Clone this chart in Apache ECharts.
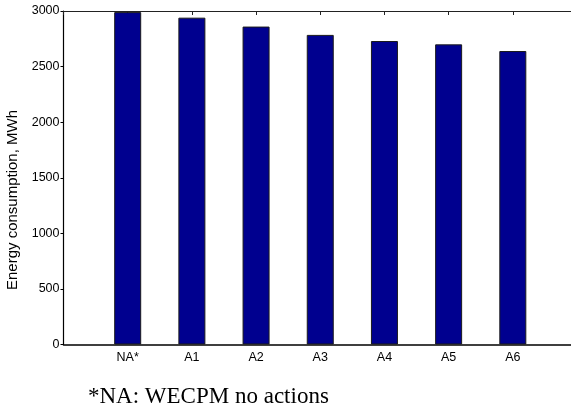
<!DOCTYPE html>
<html>
<head>
<meta charset="utf-8">
<script src="https://cdn.jsdelivr.net/npm/echarts@6/dist/echarts.min.js"></script>
<style>
  html, body { margin: 0; padding: 0; background: #fff; }
  #chart { width: 571px; height: 410px; }
</style>
</head>
<body>
<div id="chart"></div>
<script>
// Scenario labels; the empty slots pad the axis so bars sit at 1..7 on a 0..8 range
const categories = ['', 'NA*', 'A1', 'A2', 'A3', 'A4', 'A5', 'A6', ''];
// Annual energy consumption per scenario, MWh
const consumption = ['-', 2990, 2940, 2860, 2785, 2730, 2700, 2640, '-'];
const yTicks = { min: 0, max: 3000, interval: 500 };
const yAxisName = 'Energy consumption, MWh';
const footnote = '*NA: WECPM no actions';

const chart = echarts.init(document.getElementById('chart'), null, { renderer: 'canvas' });

const sansFamily = '"Liberation Sans", Arial, sans-serif';
const labelFont = { color: '#000', fontFamily: sansFamily, fontSize: 12.5 };

chart.setOption({
  animation: false,
  backgroundColor: '#fff',
  // the axes box runs a little past the right edge of the canvas
  grid: { left: 63.5, width: 513.5, top: 11, bottom: 65.5, outerBoundsMode: 'none', containLabel: false },
  xAxis: [
    {
      type: 'category',
      data: categories,
      boundaryGap: false,
      position: 'bottom',
      axisLine: { lineStyle: { color: '#000', width: 1.5 } },
      axisTick: { show: false },
      axisLabel: Object.assign({ margin: 7, interval: 0 }, labelFont),
      splitLine: { show: false }
    },
    {
      type: 'category',
      data: categories,
      boundaryGap: false,
      position: 'top',
      axisLine: { lineStyle: { color: '#222', width: 1.2 } },
      axisTick: { inside: true, length: 4, alignWithLabel: true, interval: 0, lineStyle: { color: '#222' } },
      axisLabel: { show: false },
      splitLine: { show: false }
    }
  ],
  yAxis: {
    type: 'value',
    min: yTicks.min,
    max: yTicks.max,
    interval: yTicks.interval,
    axisLine: { show: true, lineStyle: { color: '#000', width: 1.2 } },
    axisTick: { show: true, inside: false, length: 3, lineStyle: { color: '#000' } },
    axisLabel: Object.assign({ margin: 4, formatter: v => String(v) }, labelFont),
    splitLine: { show: false }
  },
  series: [{
    type: 'bar',
    data: consumption,
    barWidth: 27,
    itemStyle: { color: '#00008F', borderColor: '#1a1a1a', borderWidth: 1 }
  }],
  graphic: [
    {
      type: 'text',
      x: 13,
      y: 200,
      rotation: Math.PI / 2,
      style: {
        text: yAxisName,
        fill: '#000',
        font: '15px ' + sansFamily,
        textAlign: 'center',
        textVerticalAlign: 'middle'
      }
    },
    {
      type: 'text',
      style: {
        x: 88,
        y: 408,
        text: footnote,
        fill: '#000',
        font: '23px "Liberation Serif", "Times New Roman", serif',
        textVerticalAlign: 'bottom'
      }
    }
  ]
});
</script>
</body>
</html>
